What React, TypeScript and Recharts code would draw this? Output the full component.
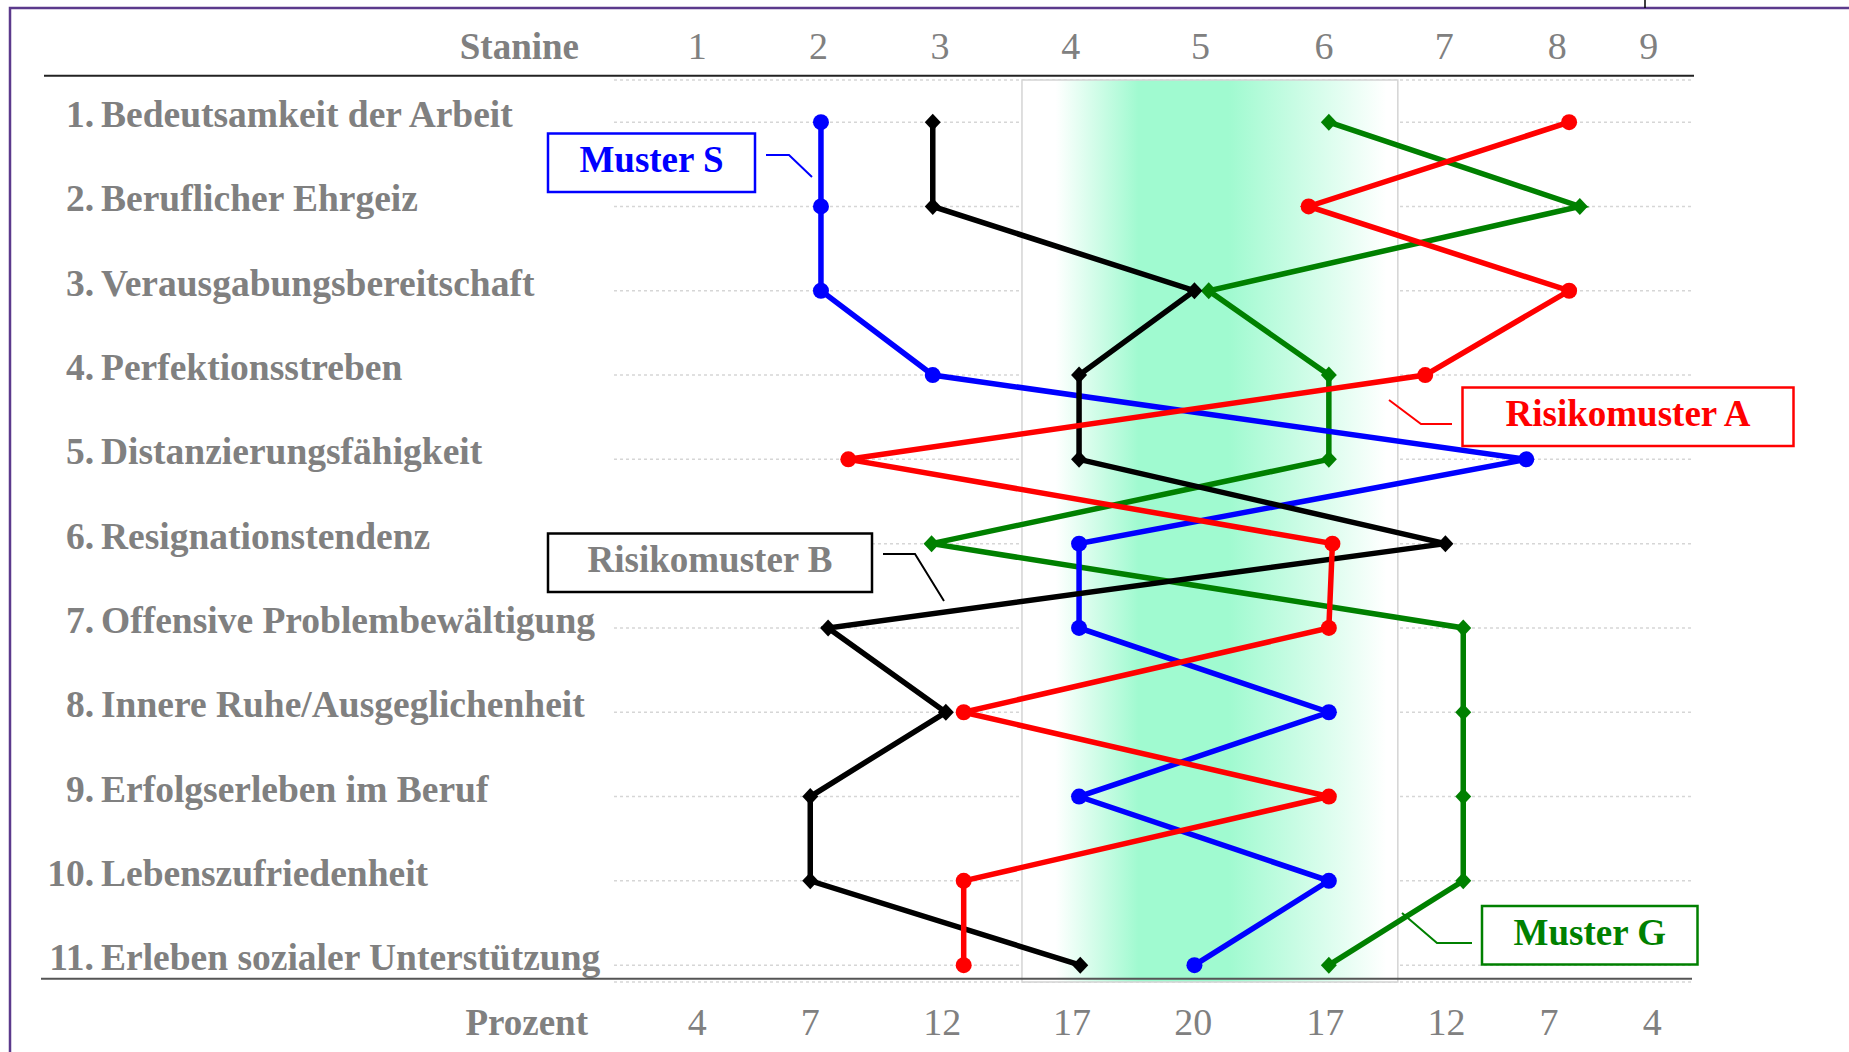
import React from "react"
import { LineChart, Line, XAxis, YAxis, CartesianGrid, ReferenceArea } from "recharts"

// rows of the profile (top to bottom)
const ROWS = [1, 2, 3, 4, 5, 6, 7, 8, 9, 10, 11]
const ITEM_LABELS = [
  "Bedeutsamkeit der Arbeit",
  "Beruflicher Ehrgeiz",
  "Verausgabungsbereitschaft",
  "Perfektionsstreben",
  "Distanzierungsfähigkeit",
  "Resignationstendenz",
  "Offensive Problembewältigung",
  "Innere Ruhe/Ausgeglichenheit",
  "Erfolgserleben im Beruf",
  "Lebenszufriedenheit",
  "Erleben sozialer Unterstützung",
]

// tick places on the horizontal scale, as drawn in the original
const STANINE_TICKS = [1, 2.02, 3.04, 4.14, 5.23, 6.27, 7.28, 8.23, 9.0]
const STANINE_LABELS = ["1", "2", "3", "4", "5", "6", "7", "8", "9"]
const PROZENT_TICKS = [1.0, 1.95, 3.06, 4.15, 5.17, 6.28, 7.3, 8.16, 9.03]
const PROZENT_LABELS = ["4", "7", "12", "17", "20", "17", "12", "7", "4"]

// series values, one per row
const MUSTER_S = [2.04, 2.04, 2.04, 2.98, 7.97, 4.21, 4.21, 6.31, 4.21, 6.31, 5.18]
const MUSTER_G = [6.31, 8.42, 5.3, 6.31, 6.31, 2.97, 7.44, 7.44, 7.44, 7.44, 6.31]
const RISIKO_A = [8.33, 6.14, 8.33, 7.12, 2.27, 6.34, 6.31, 3.24, 6.31, 3.24, 3.24]
const RISIKO_B = [2.98, 2.98, 5.18, 4.21, 4.21, 7.29, 2.1, 3.09, 1.95, 1.95, 4.22]

// normal range band
const NORM_BAND = [3.73, 6.89]

const data = ROWS.map((row, i) => ({
  row,
  s: MUSTER_S[i],
  g: MUSTER_G[i],
  a: RISIKO_A[i],
  b: RISIKO_B[i],
}))

const GRAY = "#808080"
const SERIF = "'Liberation Serif', 'Times New Roman', serif"

const circleDot = (color: string, id: string) => (props: any) => {
  const { cx, cy, index } = props
  return <circle key={`${id}-${index}`} cx={cx} cy={cy} r={8} fill={color} />
}

const diamondDot = (color: string, id: string) => (props: any) => {
  const { cx, cy, index } = props
  return (
    <path
      key={`${id}-${index}`}
      d={`M${cx},${cy - 8.5} L${cx + 8},${cy} L${cx},${cy + 8.5} L${cx - 8},${cy} Z`}
      fill={color}
    />
  )
}

const TopTick = (props: any) => {
  const { x, index } = props
  return (
    <text x={x} y={59} textAnchor="middle" fontFamily={SERIF} fontSize={38} fill={GRAY}>
      {STANINE_LABELS[index]}
    </text>
  )
}

const BottomTick = (props: any) => {
  const { x, index } = props
  return (
    <text x={x} y={1035} textAnchor="middle" fontFamily={SERIF} fontSize={38} fill={GRAY}>
      {PROZENT_LABELS[index]}
    </text>
  )
}

const RowTick = (props: any) => {
  const { y, payload } = props
  const v = payload.value
  return (
    <g fontFamily={SERIF} fontSize={37.5} fontWeight="bold" fill={GRAY}>
      <text x={94} y={y + 5} textAnchor="end">{`${v}.`}</text>
      <text x={101} y={y + 5}>{ITEM_LABELS[v - 1]}</text>
    </g>
  )
}

function Box({ x, y, w, color, textColor, label }: any) {
  return (
    <g>
      <rect x={x} y={y} width={w} height={58.5} fill="#fff" stroke={color} strokeWidth={2.5} />
      <text
        x={x + w / 2}
        y={y + 38.5}
        textAnchor="middle"
        fontFamily={SERIF}
        fontSize={37}
        fontWeight="bold"
        fill={textColor || color}
      >
        {label}
      </text>
    </g>
  )
}

export default function App() {
  return (
    <div style={{ position: "absolute", left: 0, top: 0, width: 1849, height: 1052, background: "#fff" }}>
      <LineChart
        width={1849}
        height={1052}
        layout="vertical"
        data={data}
        margin={{ top: 8, right: 155, bottom: 10, left: 44 }}
      >
        <defs>
          <linearGradient id="normBand" x1="0" y1="0" x2="1" y2="0">
            <stop offset="0%" stopColor="#ffffff" />
            <stop offset="9%" stopColor="#ffffff" />
            <stop offset="31%" stopColor="#a0fad0" />
            <stop offset="55%" stopColor="#a0fad0" />
            <stop offset="97%" stopColor="#ffffff" />
          </linearGradient>
        </defs>
        <XAxis
          xAxisId="top"
          orientation="top"
          type="number"
          domain={[0.3, 9.38]}
          ticks={STANINE_TICKS}
          interval={0}
          height={72}
          axisLine={false}
          tickLine={false}
          tick={<TopTick />}
          allowDataOverflow
        />
        <XAxis
          xAxisId="bottom"
          orientation="bottom"
          type="number"
          domain={[0.3, 9.38]}
          ticks={PROZENT_TICKS}
          interval={0}
          height={60}
          axisLine={false}
          tickLine={false}
          tick={<BottomTick />}
          allowDataOverflow
        />
        <YAxis
          type="number"
          dataKey="row"
          domain={[0.5, 11.2]}
          ticks={ROWS}
          interval={0}
          width={570}
          axisLine={false}
          tickLine={false}
          tick={<RowTick />}
          allowDataOverflow
        />
        <ReferenceArea
          xAxisId="top"
          x1={NORM_BAND[0]}
          x2={NORM_BAND[1]}
          fill="url(#normBand)"
          fillOpacity={1}
          stroke="#d4d4d4"
          strokeWidth={1.5}
        />
        <CartesianGrid xAxisId="top" vertical={false} stroke="#d6d6d6" strokeDasharray="3 3" strokeWidth={1.5} />
        <Line
          xAxisId="top"
          dataKey="g"
          stroke="#008000"
          strokeWidth={5.5}
          dot={diamondDot("#008000", "g")}
          activeDot={false}
          isAnimationActive={false}
        />
        <Line
          xAxisId="top"
          dataKey="s"
          stroke="#0000ff"
          strokeWidth={5.5}
          dot={circleDot("#0000ff", "s")}
          activeDot={false}
          isAnimationActive={false}
        />
        <Line
          xAxisId="top"
          dataKey="b"
          stroke="#000000"
          strokeWidth={5.5}
          dot={diamondDot("#000000", "b")}
          activeDot={false}
          isAnimationActive={false}
        />
        <Line
          xAxisId="top"
          dataKey="a"
          stroke="#ff0000"
          strokeWidth={5.5}
          dot={circleDot("#ff0000", "a")}
          activeDot={false}
          isAnimationActive={false}
        />
      </LineChart>

      <svg
        width={1849}
        height={1052}
        style={{ position: "absolute", left: 0, top: 0, pointerEvents: "none" }}
      >
        <polyline points="10,1052 10,8 1849,8" fill="none" stroke="#5b3a8c" strokeWidth={2.5} />
        <line x1={1645} y1={0} x2={1645} y2={8} stroke="#000" strokeWidth={1.5} />
        <line x1={44} y1={75.7} x2={1694} y2={75.7} stroke="#222" strokeWidth={2} />
        <line x1={41} y1={978.7} x2={1692} y2={978.7} stroke="#555" strokeWidth={2} />
        <text x={579} y={59} textAnchor="end" fontFamily={SERIF} fontSize={37} fontWeight="bold" fill={GRAY}>
          Stanine
        </text>
        <text x={588} y={1035} textAnchor="end" fontFamily={SERIF} fontSize={37} fontWeight="bold" fill={GRAY}>
          Prozent
        </text>

        <polyline points="766,155 789,155 812,177" fill="none" stroke="#0000ff" strokeWidth={2} />
        <Box x={548} y={133.5} w={207} color="#0000ff" label="Muster S" />

        <polyline points="1389,400 1421,424 1452,424" fill="none" stroke="#ff0000" strokeWidth={2} />
        <Box x={1462.5} y={387.5} w={331} color="#ff0000" label="Risikomuster A" />

        <polyline points="883,554 915,554 944,601" fill="none" stroke="#000" strokeWidth={2} />
        <Box x={548} y={533.5} w={324} color="#000000" textColor={GRAY} label="Risikomuster B" />

        <polyline points="1402,913 1437,943 1472,943" fill="none" stroke="#008000" strokeWidth={2} />
        <Box x={1482} y={906} w={215.5} color="#008000" label="Muster G" />
      </svg>
    </div>
  )
}
